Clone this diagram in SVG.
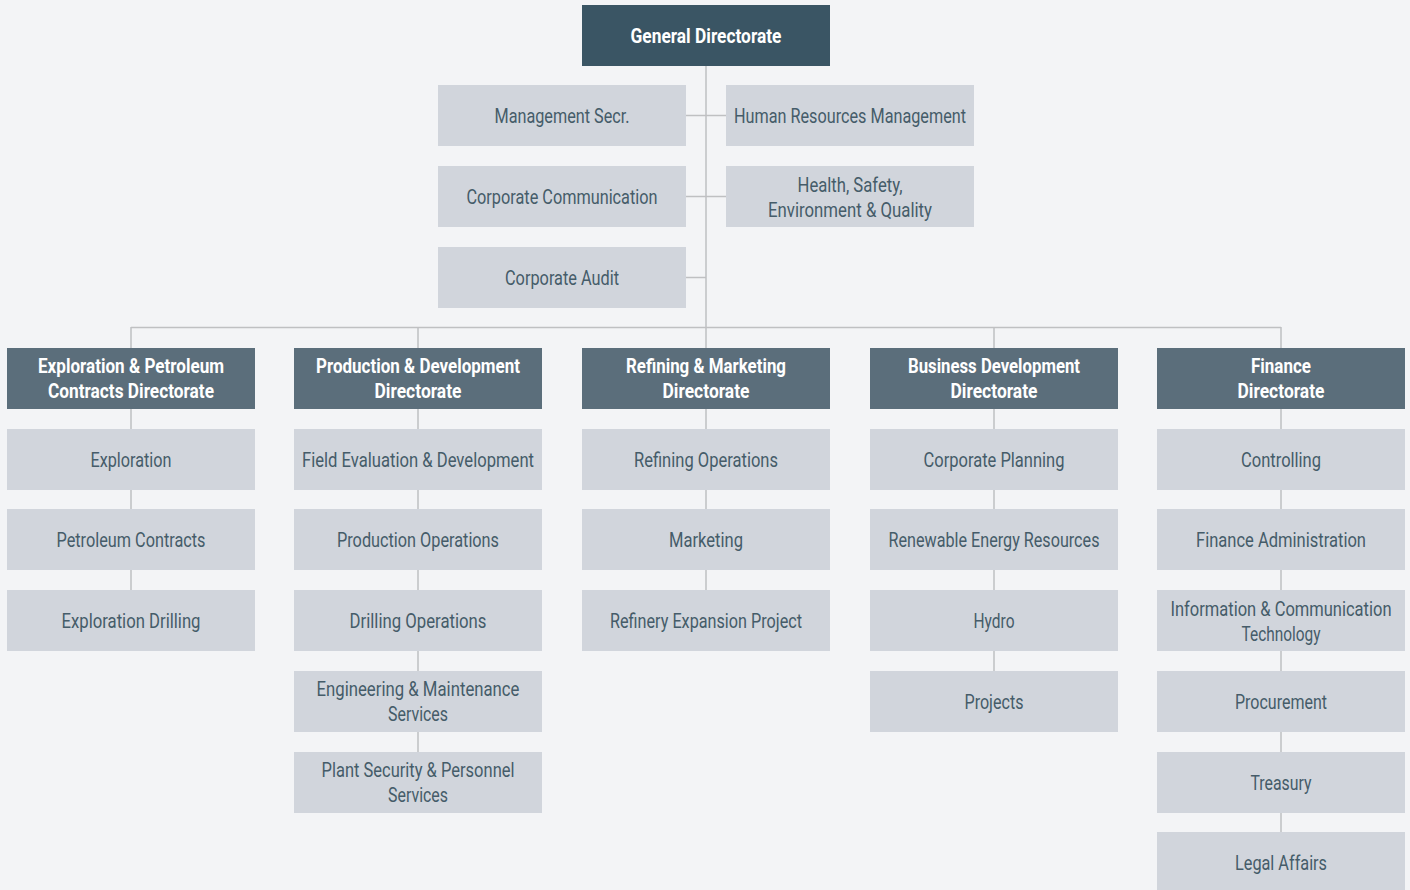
<svg xmlns="http://www.w3.org/2000/svg" width="1410" height="890" viewBox="0 0 1410 890">
<style>
.bg{fill:#f3f4f6}
.top{fill:#3a5564}
.dir{fill:#5b6e7b}
.box{fill:#d1d5dc}
.ln{stroke:#bfc0c2;stroke-width:1.5;fill:none}
text{font-family:Roboto,"Liberation Sans",sans-serif;font-size:20px;text-anchor:middle;dominant-baseline:central}
.t{fill:#455c69}
.w{fill:#ffffff;font-weight:bold}
</style>
<rect class="bg" x="0" y="0" width="1410" height="890"/>
<g id="connectors">
<path class="ln" d="M706 66V348M686 115.5H726M686 196.5H726M686 277.5H706M131 327.5H1281M131 327V348M418 327V348M994 327V348M1281 327V348"/>
<path class="ln" d="M131 409V651M418 409V813M706 409V651M994 409V732M1281 409V890"/>
</g>
<g id="n-general"><rect class="top" x="582" y="5" width="248" height="61"/><text class="w" x="706" y="36" textLength="151" lengthAdjust="spacingAndGlyphs">General Directorate</text></g>
<g id="n-mgmt"><rect class="box" x="438" y="85" width="248" height="61"/><text class="t" x="562" y="116" textLength="135" lengthAdjust="spacingAndGlyphs">Management Secr.</text></g>
<g id="n-hr"><rect class="box" x="726" y="85" width="248" height="61"/><text class="t" x="850" y="116" textLength="232" lengthAdjust="spacingAndGlyphs">Human Resources Management</text></g>
<g id="n-comm"><rect class="box" x="438" y="166" width="248" height="61"/><text class="t" x="562" y="197" textLength="191" lengthAdjust="spacingAndGlyphs">Corporate Communication</text></g>
<g id="n-hseq"><rect class="box" x="726" y="166" width="248" height="61"/><text class="t" x="850" y="185" textLength="105" lengthAdjust="spacingAndGlyphs">Health, Safety,</text><text class="t" x="850" y="210" textLength="164" lengthAdjust="spacingAndGlyphs">Environment &amp; Quality</text></g>
<g id="n-audit"><rect class="box" x="438" y="247" width="248" height="61"/><text class="t" x="562" y="278" textLength="114" lengthAdjust="spacingAndGlyphs">Corporate Audit</text></g>

<g id="d-expl"><rect class="dir" x="7" y="348" width="248" height="61"/><text class="w" x="131" y="366" textLength="186" lengthAdjust="spacingAndGlyphs">Exploration &amp; Petroleum</text><text class="w" x="131" y="391" textLength="166" lengthAdjust="spacingAndGlyphs">Contracts Directorate</text></g>
<g id="d-prod"><rect class="dir" x="294" y="348" width="248" height="61"/><text class="w" x="418" y="366" textLength="204" lengthAdjust="spacingAndGlyphs">Production &amp; Development</text><text class="w" x="418" y="391" textLength="87" lengthAdjust="spacingAndGlyphs">Directorate</text></g>
<g id="d-ref"><rect class="dir" x="582" y="348" width="248" height="61"/><text class="w" x="706" y="366" textLength="160" lengthAdjust="spacingAndGlyphs">Refining &amp; Marketing</text><text class="w" x="706" y="391" textLength="87" lengthAdjust="spacingAndGlyphs">Directorate</text></g>
<g id="d-bus"><rect class="dir" x="870" y="348" width="248" height="61"/><text class="w" x="994" y="366" textLength="172" lengthAdjust="spacingAndGlyphs">Business Development</text><text class="w" x="994" y="391" textLength="87" lengthAdjust="spacingAndGlyphs">Directorate</text></g>
<g id="d-fin"><rect class="dir" x="1157" y="348" width="248" height="61"/><text class="w" x="1281" y="366" textLength="60" lengthAdjust="spacingAndGlyphs">Finance</text><text class="w" x="1281" y="391" textLength="87" lengthAdjust="spacingAndGlyphs">Directorate</text></g>

<g id="c-exploration"><rect class="box" x="7" y="429" width="248" height="61"/><text class="t" x="131" y="460" textLength="81" lengthAdjust="spacingAndGlyphs">Exploration</text></g>
<g id="c-petcontracts"><rect class="box" x="7" y="509" width="248" height="61"/><text class="t" x="131" y="540" textLength="149" lengthAdjust="spacingAndGlyphs">Petroleum Contracts</text></g>
<g id="c-expdrill"><rect class="box" x="7" y="590" width="248" height="61"/><text class="t" x="131" y="621" textLength="139" lengthAdjust="spacingAndGlyphs">Exploration Drilling</text></g>

<g id="c-fieldeval"><rect class="box" x="294" y="429" width="248" height="61"/><text class="t" x="418" y="460" textLength="232" lengthAdjust="spacingAndGlyphs">Field Evaluation &amp; Development</text></g>
<g id="c-prodops"><rect class="box" x="294" y="509" width="248" height="61"/><text class="t" x="418" y="540" textLength="162" lengthAdjust="spacingAndGlyphs">Production Operations</text></g>
<g id="c-drillops"><rect class="box" x="294" y="590" width="248" height="61"/><text class="t" x="418" y="621" textLength="137" lengthAdjust="spacingAndGlyphs">Drilling Operations</text></g>
<g id="c-engmaint"><rect class="box" x="294" y="671" width="248" height="61"/><text class="t" x="418" y="689" textLength="203" lengthAdjust="spacingAndGlyphs">Engineering &amp; Maintenance</text><text class="t" x="418" y="714" textLength="60" lengthAdjust="spacingAndGlyphs">Services</text></g>
<g id="c-plantsec"><rect class="box" x="294" y="752" width="248" height="61"/><text class="t" x="418" y="770" textLength="193" lengthAdjust="spacingAndGlyphs">Plant Security &amp; Personnel</text><text class="t" x="418" y="795" textLength="60" lengthAdjust="spacingAndGlyphs">Services</text></g>

<g id="c-refops"><rect class="box" x="582" y="429" width="248" height="61"/><text class="t" x="706" y="460" textLength="144" lengthAdjust="spacingAndGlyphs">Refining Operations</text></g>
<g id="c-marketing"><rect class="box" x="582" y="509" width="248" height="61"/><text class="t" x="706" y="540" textLength="74" lengthAdjust="spacingAndGlyphs">Marketing</text></g>
<g id="c-refexp"><rect class="box" x="582" y="590" width="248" height="61"/><text class="t" x="706" y="621" textLength="192" lengthAdjust="spacingAndGlyphs">Refinery Expansion Project</text></g>

<g id="c-corpplan"><rect class="box" x="870" y="429" width="248" height="61"/><text class="t" x="994" y="460" textLength="141" lengthAdjust="spacingAndGlyphs">Corporate Planning</text></g>
<g id="c-renew"><rect class="box" x="870" y="509" width="248" height="61"/><text class="t" x="994" y="540" textLength="211" lengthAdjust="spacingAndGlyphs">Renewable Energy Resources</text></g>
<g id="c-hydro"><rect class="box" x="870" y="590" width="248" height="61"/><text class="t" x="994" y="621" textLength="41" lengthAdjust="spacingAndGlyphs">Hydro</text></g>
<g id="c-projects"><rect class="box" x="870" y="671" width="248" height="61"/><text class="t" x="994" y="702" textLength="59" lengthAdjust="spacingAndGlyphs">Projects</text></g>

<g id="c-controlling"><rect class="box" x="1157" y="429" width="248" height="61"/><text class="t" x="1281" y="460" textLength="80" lengthAdjust="spacingAndGlyphs">Controlling</text></g>
<g id="c-finadmin"><rect class="box" x="1157" y="509" width="248" height="61"/><text class="t" x="1281" y="540" textLength="170" lengthAdjust="spacingAndGlyphs">Finance Administration</text></g>
<g id="c-ict"><rect class="box" x="1157" y="590" width="248" height="61"/><text class="t" x="1281" y="609" textLength="221" lengthAdjust="spacingAndGlyphs">Information &amp; Communication</text><text class="t" x="1281" y="634" textLength="79" lengthAdjust="spacingAndGlyphs">Technology</text></g>
<g id="c-procure"><rect class="box" x="1157" y="671" width="248" height="61"/><text class="t" x="1281" y="702" textLength="92" lengthAdjust="spacingAndGlyphs">Procurement</text></g>
<g id="c-treasury"><rect class="box" x="1157" y="752" width="248" height="61"/><text class="t" x="1281" y="783" textLength="61" lengthAdjust="spacingAndGlyphs">Treasury</text></g>
<g id="c-legal"><rect class="box" x="1157" y="832" width="248" height="61"/><text class="t" x="1281" y="863" textLength="92" lengthAdjust="spacingAndGlyphs">Legal Affairs</text></g>
</svg>
